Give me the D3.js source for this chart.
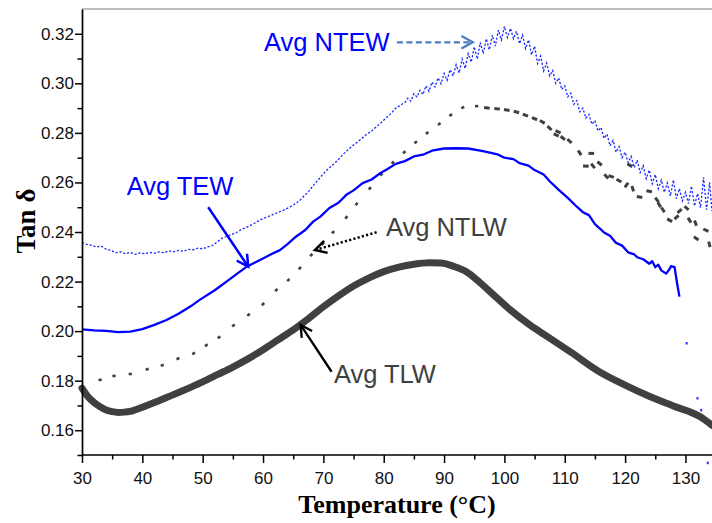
<!DOCTYPE html>
<html><head><meta charset="utf-8">
<script src="https://cdn.jsdelivr.net/npm/d3@7"></script>
<style>body{margin:0;background:#fff}</style>
</head><body>
<svg id="c" width="712" height="523"></svg>
<script>
// ---------- data ----------
const xMajor = [30,40,50,60,70,80,90,100,110,120,130];
const xMinor = [35,45,55,65,75,85,95,105,115,125];
const yMajor = [0.16,0.18,0.20,0.22,0.24,0.26,0.28,0.30,0.32];
const yMinor = [0.15,0.17,0.19,0.21,0.23,0.25,0.27,0.29,0.31];

// Avg TLW (thick dark grey)
const tlwT = [30,31,32,33,34,35,36,37,38,40,42,44,46,48,50,52.5,55,57.5,60,62.5,65,67.5,70,72.5,75,77.5,80,82.5,85,87.5,89.5,91.5,93.7,96,98.7,101,104.2,107.5,111,115.8,120,124,128,132.4,134.4];
const tlwV = [0.1770,0.1735,0.1712,0.1695,0.1682,0.1675,0.1672,0.1673,0.1676,0.1693,0.1712,0.1732,0.1752,0.1773,0.1795,0.1825,0.1855,0.1888,0.1925,0.1965,0.2005,0.2050,0.2098,0.2142,0.2182,0.2214,0.2240,0.2258,0.2270,0.2276,0.2275,0.2262,0.2240,0.2195,0.2135,0.2085,0.2025,0.1972,0.1915,0.1835,0.1782,0.1737,0.1698,0.1655,0.1620];

// Avg TEW (solid blue)
const tewT = [30,32,34,36,38,40,42,44,46,48,49.5,52,54.5,57.3,60,61.5,62.8,64,65.5,67,68.3,69.5,71,72.5,73.8,75,76.5,78,79.4,80.5,82,83.5,85,86.5,88,90,92,94,96,97.6,99,100,101.5,102.5,104,105,106.5,107.5,109,110.5,112,113,114,115,116,116.5,117.5,118.5,119.5,120.5,121.5,122,123,124,124.5,125,125.5,126,126.8,127.3,127.6,128.2,128.6,129];
const tewV = [0.2007,0.2003,0.2001,0.1996,0.1998,0.2008,0.2025,0.2045,0.2070,0.2100,0.2126,0.2165,0.2210,0.2260,0.2293,0.2312,0.2327,0.2350,0.2382,0.2408,0.2442,0.2462,0.2497,0.2518,0.2550,0.2568,0.2597,0.2612,0.2637,0.2652,0.2675,0.2686,0.2705,0.2712,0.2728,0.2737,0.2738,0.2737,0.2728,0.2720,0.2712,0.2700,0.2694,0.2678,0.2668,0.2650,0.2632,0.2605,0.2570,0.2538,0.2502,0.2480,0.2468,0.2432,0.2410,0.2398,0.2385,0.2356,0.2345,0.2318,0.2310,0.2298,0.2290,0.2272,0.2282,0.2258,0.2268,0.2245,0.2232,0.2248,0.2262,0.2258,0.2195,0.2139];
const tewTailT = [130.2,132.0,132.6,133.7];
const tewTailV = [0.1952,0.1730,0.1682,0.1469];

// Avg NTLW (sparse dark grey marks)
const ntlwT = [33.0,35.3,38.0,40.8,43.3,45.9,48.5,50.6,52.7,55.1,57.6,60.0,62.2,64.2,66.1,68.0,69.9,71.6,73.8,75.5,77.7,79.6,81.5,83.4,85.3,87.2,89.2,91.1,93.1,95.4,97.1,98.8,100.4,102.0,103.5,105.0,106.3,107.5,108.6,108.9,109.7,110.8,112.5,113.5,114.4,114.7,115.8,116.9,117.7,119.0,120.2,120.8,121.3,122.4,124.0,125.3,125.7,126.3,127.4,128.5,129.0,130.2,130.7,131.7,131.8,133.4,134.0];
const ntlwV = [0.1803,0.1819,0.1827,0.1846,0.1862,0.1889,0.1910,0.1943,0.1975,0.2023,0.2066,0.2109,0.2166,0.2206,0.2254,0.2307,0.2353,0.2399,0.2459,0.2513,0.2576,0.2632,0.2680,0.2722,0.2762,0.2800,0.2836,0.2872,0.2902,0.2908,0.2902,0.2898,0.2893,0.2885,0.2872,0.2858,0.2845,0.2820,0.2792,0.2805,0.2780,0.2768,0.2720,0.2667,0.2718,0.2667,0.2677,0.2625,0.2625,0.2608,0.2590,0.2670,0.2575,0.2542,0.2565,0.2530,0.2510,0.2490,0.2448,0.2460,0.2485,0.2497,0.2448,0.2436,0.2375,0.2408,0.2350];

// Avg NTEW (thin dotted blue, noisy)
const ntewT = [30,30.8,31.6,32.4,33.2,34,34.8,35.6,36.4,37.2,38,38.8,39.6,40.4,41.2,42,42.8,43.6,44.4,45.2,46,46.8,47.6,48.4,49.2,50,50.8,51.6,52.4,53.2,54,54.8,55.6,56.4,57.2,58,58.8,59.6,60.4,61.2,62,62.8,63.6,64.4,65.2,66,66.8,67.6,68.4,69.2,70,70.8,71.6,72.4,73.2,74,74.8,75.6,76.4,77.2,78,78.8,79.6,80.4,81.2,82,82.8,83.6,
 84,84.5,85,85.5,86,86.5,87,87.5,88,88.5,89,89.5,90,90.5,91,91.5,92,92.5,93,93.5,94,94.5,95,95.5,96,96.5,97,97.5,98,98.5,99,99.5,100,100.5,101,101.5,102,102.5,103,103.5,104,104.5,105,105.5,106,106.5,107,107.5,108,108.5,109,109.5,110,110.5,111,111.5,112,112.5,113,113.5,114,114.5,115,115.5,116,116.5,117,117.5,118,118.5,119,119.5,120,120.5,121,121.5,122,122.5,123,123.5,124,124.5,125,125.5,126,126.5,127,127.5,128,128.5,129,129.5,130,130.5,131,131.5,132,132.5,133,133.5,134,134.4];
const ntewV = [0.2358,0.2350,0.2346,0.2340,0.2343,0.2330,0.2326,0.2316,0.2320,0.2312,0.2318,0.2310,0.2316,0.2312,0.2318,0.2314,0.2320,0.2316,0.2324,0.2320,0.2326,0.2322,0.2330,0.2328,0.2335,0.2332,0.2340,0.2345,0.2360,0.2375,0.2382,0.2390,0.2398,0.2410,0.2418,0.2428,0.2438,0.2450,0.2458,0.2466,0.2474,0.2482,0.2490,0.2500,0.2512,0.2525,0.2545,0.2565,0.2590,0.2612,0.2635,0.2655,0.2672,0.2690,0.2712,0.2730,0.2748,0.2762,0.2778,0.2795,0.2808,0.2825,0.2842,0.2860,0.2878,0.2900,0.2912,0.2925,
 0.2940,0.2928,0.2958,0.2945,0.2972,0.2955,0.2990,0.2968,0.3005,0.2985,0.3022,0.2998,0.3040,0.3012,0.3055,0.3030,0.3075,0.3042,0.3098,0.3060,0.3120,0.3085,0.3148,0.3098,0.3165,0.3120,0.3180,0.3135,0.3195,0.3150,0.3215,0.3175,0.3230,0.3185,0.3222,0.3180,0.3210,0.3160,0.3195,0.3140,0.3175,0.3115,0.3150,0.3080,0.3110,0.3050,0.3082,0.3030,0.3052,0.3000,0.3022,0.2975,0.2990,0.2945,0.2960,0.2915,0.2930,0.2885,0.2900,0.2860,0.2875,0.2835,0.2850,0.2808,0.2822,0.2778,0.2795,0.2748,0.2770,0.2722,0.2745,0.2700,0.2722,0.2680,0.2705,0.2660,0.2690,0.2640,0.2668,0.2615,0.2650,0.2595,0.2632,0.2575,0.2610,0.2560,0.2598,0.2545,0.2610,0.2535,0.2575,0.2525,0.2560,0.2515,0.2585,0.2505,0.2555,0.2498,0.2620,0.2490,0.2600,0.2485];

// annotations (data coordinates)
const notes = [
  {text:"Avg NTEW", color:"#0000ff", tx:60.15, tv:0.3132, from:[82.18,0.31657], to:[94.77,0.31657], stroke:"#4a7ebb", dash:"6,3.5", w:2.2},
  {text:"Avg TEW",  color:"#0000ff", tx:37.4,  tv:0.2549, from:[50.92,0.2500],  to:[57.55,0.2260],  stroke:"#0000ff", dash:null, w:2.5},
  {text:"Avg NTLW", color:"#404040", tx:80.36, tv:0.2385, from:[78.82,0.2399],  to:[68.6,0.2327],   stroke:"#000000", dash:"2.2,2.2", w:2.5},
  {text:"Avg TLW",  color:"#404040", tx:71.74, tv:0.1792, from:[71.36,0.1836],  to:[66.23,0.2025],  stroke:"#000000", dash:null, w:2.3}
];

// ---------- chart ----------
const svg = d3.select("#c");
const x = d3.scaleLinear().domain([30,134.4]).range([82,712]);
const y = d3.scaleLinear().domain([0.15,0.33]).range([455,9]);
const line = d3.line().x(d=>x(d[0])).y(d=>y(d[1]));

// top border
svg.append("line").attr("x1",x(30)).attr("x2",712).attr("y1",y(0.33)).attr("y2",y(0.33))
  .attr("stroke","#aaaaaa").attr("stroke-width",1.5);

// NTEW
svg.append("path").datum(d3.zip(ntewT,ntewV)).attr("d",line)
  .attr("fill","none").attr("stroke","#1a2aff").attr("stroke-width",1.3)
  .attr("stroke-dasharray","2.2,1.8");

// NTLW marks
const ntlw = d3.zip(ntlwT,ntlwV);
svg.append("g").selectAll("rect").data(ntlw).join("rect")
  .attr("x",d=>d[0]<96?-1.6:-2.8).attr("y",-1.3)
  .attr("width",d=>d[0]<96?3.2:5.6).attr("height",d=>d[0]<96?2.6:3)
  .attr("fill","#404040")
  .attr("transform",(d,i)=>{
    const a = ntlw[Math.max(0,i-1)], b = ntlw[Math.min(ntlw.length-1,i+1)];
    const ang = Math.atan2(y(b[1])-y(a[1]), x(b[0])-x(a[0]))*180/Math.PI;
    return `translate(${x(d[0])},${y(d[1])}) rotate(${ang})`;
  });

// TEW
svg.append("path").datum(d3.zip(tewT,tewV)).attr("d",line)
  .attr("fill","none").attr("stroke","#0000ff").attr("stroke-width",2.3)
  .attr("stroke-linejoin","round");
svg.append("g").selectAll("rect").data(d3.zip(tewTailT,tewTailV)).join("rect")
  .attr("x",d=>x(d[0])-1).attr("y",d=>y(d[1])-1).attr("width",2).attr("height",2.5)
  .attr("fill","#2030ff");

// TLW
svg.append("path").datum(d3.zip(tlwT,tlwV)).attr("d",line.curve(d3.curveMonotoneX))
  .attr("fill","none").attr("stroke","#404040").attr("stroke-width",7)
  .attr("stroke-linejoin","round").attr("stroke-linecap","round");

// axes
const axisFont = "'Liberation Sans', Arial, sans-serif";
const gx = svg.append("g").attr("transform",`translate(0,${y(0.15)})`)
  .call(d3.axisBottom(x).tickValues(xMajor).tickSize(8).tickSizeOuter(0).tickPadding(8.5).tickFormat(d3.format("d")));
svg.append("g").attr("transform",`translate(0,${y(0.15)})`)
  .call(d3.axisBottom(x).tickValues(xMinor).tickSize(4.5).tickSizeOuter(0).tickFormat(""))
  .select(".domain").remove();
const gy = svg.append("g").attr("transform",`translate(${x(30)},0)`)
  .call(d3.axisLeft(y).tickValues(yMajor).tickSize(7).tickSizeOuter(0).tickPadding(1).tickFormat(d3.format(".2f")));
svg.append("g").attr("transform",`translate(${x(30)},0)`)
  .call(d3.axisLeft(y).tickValues(yMinor).tickSize(4.5).tickSizeOuter(0).tickFormat(""))
  .select(".domain").remove();
svg.selectAll(".domain").attr("stroke","#000").attr("stroke-width",1.7);
svg.selectAll(".tick line").attr("stroke","#000").attr("stroke-width",1.5);
svg.selectAll(".tick text").attr("font-family",axisFont).attr("font-size","17px").attr("fill","#111");
gx.select(".domain").attr("d",`M${x(30)},0H712`);

// axis titles
svg.append("text").attr("x",397).attr("y",513).attr("text-anchor","middle")
  .attr("font-family","'Liberation Serif','Times New Roman',serif").attr("font-weight","bold")
  .attr("font-size","26px").attr("fill","#000").text("Temperature (°C)");
svg.append("text").attr("transform","translate(35,221) rotate(-90)").attr("text-anchor","middle")
  .attr("font-family","'Liberation Serif','Times New Roman',serif").attr("font-weight","bold")
  .attr("font-size","27px").attr("fill","#000").text("Tan δ");

// annotations
notes.forEach(n=>{
  svg.append("text").attr("x",x(n.tx)).attr("y",y(n.tv))
    .attr("font-family",axisFont).attr("font-size","25.5px").attr("fill",n.color).text(n.text);
  const x1=x(n.from[0]), y1=y(n.from[1]), x2=x(n.to[0]), y2=y(n.to[1]);
  const l = svg.append("line").attr("x1",x1).attr("y1",y1).attr("x2",x2).attr("y2",y2)
    .attr("stroke",n.stroke).attr("stroke-width",n.w);
  if(n.dash) l.attr("stroke-dasharray",n.dash);
  const ang = Math.atan2(y2-y1,x2-x1), L=13, s=0.5;
  const p1=[x2-L*Math.cos(ang-s), y2-L*Math.sin(ang-s)];
  const p2=[x2-L*Math.cos(ang+s), y2-L*Math.sin(ang+s)];
  svg.append("path").attr("d",`M${p1[0]},${p1[1]}L${x2},${y2}L${p2[0]},${p2[1]}`)
    .attr("fill","none").attr("stroke",n.stroke).attr("stroke-width",n.w);
});
</script>
</body></html>
